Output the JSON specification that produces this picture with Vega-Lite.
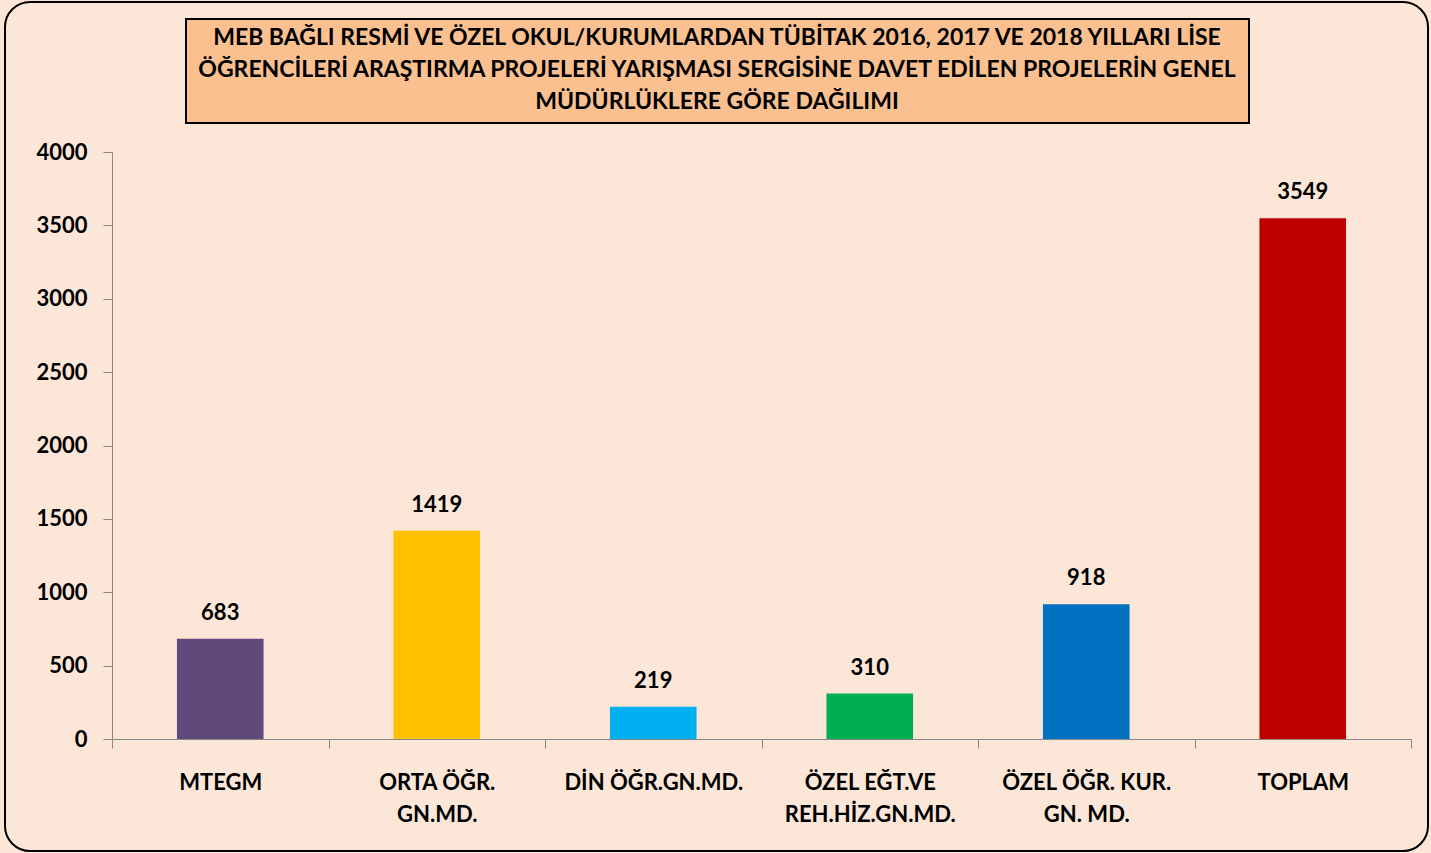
{
  "$schema": "https://vega.github.io/schema/vega-lite/v6.json",
  "background": "#FBE6D7",
  "autosize": "none",
  "padding": {"left": 5, "top": 2, "right": 3, "bottom": 2},
  "width": 1423,
  "height": 849,
  "config": {"font": "Lato", "legend": {"strokeWidth": 2}},
  "view": {"stroke": "#000000", "strokeWidth": 2, "cornerRadius": 25},
  "data": {"values": [
    {"category": "MTEGM", "value": 683},
    {"category": "ORTA ÖĞR.\nGN.MD.", "value": 1419},
    {"category": "DİN ÖĞR.GN.MD.", "value": 219},
    {"category": "ÖZEL EĞT.VE\nREH.HİZ.GN.MD.", "value": 310},
    {"category": "ÖZEL ÖĞR. KUR.\nGN. MD.", "value": 918},
    {"category": "TOPLAM", "value": 3549}
  ]},
  "encoding": {
    "x": {
      "field": "category", "type": "nominal", "sort": null,
      "scale": {"range": [107, 1406], "paddingInner": 0, "paddingOuter": 0},
      "axis": {
        "title": null, "labelAngle": 0, "orient": "bottom", "offset": -112,
        "tickBand": "extent", "domainColor": "#888888", "tickColor": "#888888", "tickSize": 9,
        "labelFont": "Lato", "labelFontSize": 22, "labelFontWeight": "bold", "labelColor": "#000000",
        "labelPadding": 24, "labelLineHeight": 32,
        "labelExpr": "isString(datum.value) ? split(datum.value, '\\n') : ''"
      }
    },
    "y": {
      "field": "value", "type": "quantitative",
      "scale": {"domain": [0, 4000], "range": [737, 150], "nice": false},
      "axis": {
        "title": null, "grid": false, "offset": -107, "format": "d",
        "values": [0, 500, 1000, 1500, 2000, 2500, 3000, 3500, 4000],
        "domainColor": "#888888", "tickColor": "#888888", "tickSize": 9,
        "labelFont": "Lato", "labelFontSize": 22, "labelFontWeight": "bold", "labelColor": "#000000",
        "labelPadding": 16
      }
    }
  },
  "layer": [
    {
      "mark": {"type": "bar", "width": {"band": 0.4}},
      "encoding": {
        "color": {
          "field": "category", "type": "nominal",
          "scale": {
            "domain": ["MTEGM", "ORTA ÖĞR.\nGN.MD.", "DİN ÖĞR.GN.MD.", "ÖZEL EĞT.VE\nREH.HİZ.GN.MD.", "ÖZEL ÖĞR. KUR.\nGN. MD.", "TOPLAM"],
            "range": ["#604A7B", "#FFC000", "#00B0F0", "#00B050", "#0070C0", "#C00000"]
          },
          "legend": {
            "orient": "none", "legendX": 181, "legendY": 17,
            "title": [
              "MEB BAĞLI RESMİ VE ÖZEL OKUL/KURUMLARDAN TÜBİTAK 2016, 2017 VE 2018 YILLARI LİSE",
              "ÖĞRENCİLERİ ARAŞTIRMA PROJELERİ YARIŞMASI SERGİSİNE DAVET  EDİLEN PROJELERİN GENEL",
              "MÜDÜRLÜKLERE GÖRE DAĞILIMI"
            ],
            "values": ["MTEGM", "TOPLAM"],
            "direction": "horizontal", "columnPadding": 800, "rowPadding": 0,
            "symbolOpacity": 0, "symbolSize": 1, "symbolStrokeWidth": 0,
            "labelExpr": "''", "labelFontSize": 1,
            "fillColor": "#FAC090", "strokeColor": "#000000", "padding": 8,
            "titleFont": "Lato", "titleFontSize": 23, "titleFontWeight": "bold", "titleColor": "#000000",
            "titleLineHeight": 32, "titleAlign": "center", "titleAnchor": "middle", "titlePadding": 0, "titleLimit": 2000
          }
        }
      }
    },
    {
      "mark": {"type": "text", "dy": -19, "baseline": "alphabetic", "align": "center", "font": "Lato", "fontSize": 22, "fontWeight": "bold", "color": "#000000"},
      "encoding": {"text": {"field": "value", "type": "quantitative"}}
    }
  ]
}
